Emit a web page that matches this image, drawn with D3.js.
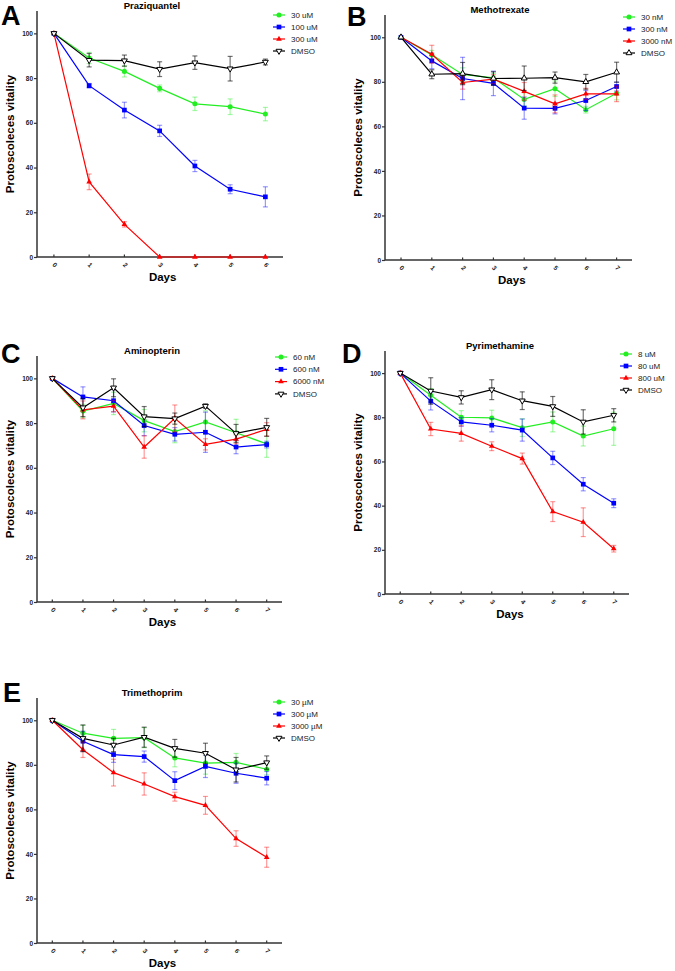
<!DOCTYPE html>
<html>
<head>
<meta charset="utf-8">
<script src="https://cdn.jsdelivr.net/npm/d3@7"></script>
<style>
body { margin: 0; background: #fff; }
text { font-family: Arial, "Liberation Sans", sans-serif; }
</style>
</head>
<body>
<script>
// ---- data ----
var days6 = [0, 1, 2, 3, 4, 5, 6];
var days7 = [0, 1, 2, 3, 4, 5, 6, 7];
var yTicks = [0, 20, 40, 60, 80, 100];

// A: Praziquantel
var praziNames = ["30 uM", "100 uM", "300 uM", "DMSO"];
var praziMean = [
  [100, 89, 83, 75.4, 68.5, 67.2, 63.9],
  [100, 76.6, 65.7, 56.4, 40.7, 30.3, 26.9],
  [100, 33.6, 14.6, 0, 0, 0, 0],
  [100, 88, 87.8, 84, 86.9, 84.2, 87.2]
];
var praziErr = [
  [0, 2.5, 2.5, 1.5, 3, 3.5, 3],
  [0, 1, 3.5, 2.5, 2.5, 2, 4.5],
  [0, 3.5, 1.2, 0, 0, 0, 0],
  [0, 3, 2.5, 3.3, 3, 5.5, 1.3]
];

// B: Methotrexate
var methoNames = ["30 nM", "300 nM", "3000 nM", "DMSO"];
var methoMean = [
  [100, 92.1, 83.3, 81.8, 72.1, 76.9, 67.5, 74.9],
  [100, 89.4, 81.5, 79.3, 68.2, 68.1, 71.6, 77.9],
  [100, 92.4, 79.7, 81.2, 75.7, 70.1, 74.6, 74.6],
  [100, 83.4, 83.7, 81.5, 81.6, 81.9, 80, 84.3]
];
var methoErr = [
  [0, 2, 3, 2, 3, 3.5, 1.5, 3],
  [0, 3.5, 9.5, 5.5, 5, 2.5, 4.5, 2],
  [0, 4, 3, 2, 4, 4, 2.5, 3.5],
  [0, 2, 5, 3, 5.5, 2.5, 3.3, 4.5]
];

// C: Aminopterin
var aminoNames = ["60 nM", "600 nM", "6000 nM", "DMSO"];
var aminoMean = [
  [100, 85.4, 88.8, 81.1, 76.2, 80.5, 75.7, 70.7],
  [100, 91.7, 90, 78.9, 75, 75.9, 69.3, 70.4],
  [100, 85.9, 87.6, 69.3, 82.1, 70.5, 72.8, 77.2],
  [100, 86.9, 95.8, 82.9, 82, 87.6, 75.4, 78.1]
];
var aminoErr = [
  [0, 3, 5, 5, 5, 5, 6, 6],
  [0, 4.5, 5, 4.5, 3, 9, 3, 1.5],
  [0, 4, 2.5, 5, 6, 2.5, 2, 3],
  [0, 4, 4, 4.5, 2.5, 1, 4, 4]
];

// D: Pyrimethamine
var pyriNames = ["8 uM", "80 uM", "800 uM", "DMSO"];
var pyriMean = [
  [100, 90, 80, 79.7, 75.3, 77.9, 71.5, 74.8],
  [100, 87.3, 77.9, 76.4, 74.2, 61.6, 49.7, 41.1],
  [100, 74.7, 72.7, 66.9, 61.3, 37.3, 32.5, 20.5],
  [100, 91.9, 89, 92.5, 87.5, 84.9, 77.9, 80.9]
];
var pyriErr = [
  [0, 3, 3, 3.5, 4, 4.5, 4.5, 7.5],
  [0, 4, 2, 3, 5, 3, 3, 2],
  [0, 3, 3.5, 2, 2.5, 4.5, 6.5, 1.5],
  [0, 6, 3, 4.5, 4, 4.5, 5.5, 3]
];

// E: Trimethoprim
var trimeNames = ["30  \u00b5M", "300 \u00b5M", "3000 \u00b5M", "DMSO"];
var trimeMean = [
  [100, 94.2, 91.9, 92.2, 83.1, 80.8, 81.1, 78],
  [100, 90.6, 84.6, 83.7, 72.9, 79.3, 76.2, 74],
  [100, 86.8, 76.5, 71.4, 65.7, 61.8, 46.9, 38.5],
  [100, 91.9, 88.9, 92.4, 87.4, 85.2, 77.8, 81]
];
var trimeErr = [
  [0, 3.5, 4, 4.5, 4, 5, 4, 2.5],
  [0, 4.5, 3.5, 2.5, 4, 5, 4.5, 3],
  [0, 3.5, 6, 5, 2, 4, 3.5, 4.5],
  [0, 6, 3, 4.5, 4, 4.5, 5.5, 3]
];

var colors = ["#22ee22", "#0000ff", "#ff0000", "#000000"];

var svg = d3.select("body").append("svg")
  .attr("width", 675)
  .attr("height", 971);

function panel(opt, days, names, means, errs) {
  var g = svg.append("g");
  var x = d3.scaleLinear().domain([days[0] - opt.padL, days[days.length - 1] + 0.5]).range([opt.left, opt.right]);
  var y = d3.scaleLinear().domain([0, 110]).range([opt.bottom, opt.top]);

  // y axis
  var ya = g.append("g")
    .attr("transform", "translate(" + opt.left + ",0)")
    .call(d3.axisLeft(y).tickValues(yTicks).tickSize(3).tickPadding(1));
  ya.select(".domain").remove();
  ya.selectAll("line").attr("stroke", "#333").attr("stroke-width", 1.2);
  ya.selectAll("text").attr("font-size", 6.5).attr("font-weight", "bold").attr("fill", "#222");

  // x ticks (inward) and rotated labels
  g.selectAll(".xt").data(days).enter().append("line")
    .attr("x1", function(d) { return x(d); })
    .attr("x2", function(d) { return x(d); })
    .attr("y1", opt.bottom)
    .attr("y2", opt.bottom - 2.5)
    .attr("stroke", "#333").attr("stroke-width", 1.2);
  g.selectAll(".xl").data(days).enter().append("text")
    .attr("transform", function(d) { return "translate(" + (x(d) + 1) + "," + (opt.bottom + 8) + ") rotate(45)"; })
    .attr("text-anchor", "middle")
    .attr("dy", "0.35em")
    .attr("font-size", 6.5).attr("font-weight", "bold").attr("fill", "#222")
    .text(function(d) { return d; });

  // axis lines
  g.append("line").attr("x1", opt.left).attr("x2", opt.left).attr("y1", opt.top).attr("y2", opt.bottom)
    .attr("stroke", "#333").attr("stroke-width", 1.5);
  g.append("line").attr("x1", opt.left).attr("x2", opt.right).attr("y1", opt.bottom).attr("y2", opt.bottom)
    .attr("stroke", "#333").attr("stroke-width", 1.5);

  // labels
  g.append("text").attr("x", opt.left + 115).attr("y", opt.top - 2)
    .attr("text-anchor", "middle").attr("font-size", 9.5).attr("font-weight", "bold")
    .text(opt.title);
  g.append("text").attr("x", opt.letterX).attr("y", opt.letterY)
    .attr("font-size", 27).attr("font-weight", "bold")
    .text(opt.letter);
  g.append("text").attr("transform", "translate(" + (opt.left - 23) + "," + ((opt.top + opt.bottom) / 2) + ") rotate(-90)")
    .attr("text-anchor", "middle").attr("font-size", 11.5).attr("font-weight", "bold")
    .text("Protoscoleces vitality");
  g.append("text").attr("x", (x(days[0]) + x(days[days.length - 1])) / 2 + 3).attr("y", opt.bottom + 24)
    .attr("text-anchor", "middle").attr("font-size", 11.5).attr("font-weight", "bold")
    .text("Days");

  var line = d3.line().x(function(d) { return x(d[0]); }).y(function(d) { return y(d[1]); });
  var shapes = [d3.symbolCircle, d3.symbolSquare, d3.symbolTriangle, d3.symbolTriangle];
  var sizes = [20, 22, 14, 15];

  means.forEach(function(m, i) {
    var pts = days.map(function(d, j) { return [d, m[j], errs[i][j]]; });
    var s = g.append("g");
    // error bars
    var eb = s.selectAll(".eb").data(pts.filter(function(p) { return p[2] > 0; })).enter().append("g")
      .attr("stroke", colors[i]).attr("stroke-opacity", i == 3 ? 0.55 : 0.4).attr("stroke-width", 1.2);
    eb.append("line").attr("x1", function(p) { return x(p[0]); }).attr("x2", function(p) { return x(p[0]); })
      .attr("y1", function(p) { return y(p[1] - p[2]); }).attr("y2", function(p) { return y(p[1] + p[2]); });
    eb.append("line").attr("x1", function(p) { return x(p[0]) - 2.5; }).attr("x2", function(p) { return x(p[0]) + 2.5; })
      .attr("y1", function(p) { return y(p[1] + p[2]); }).attr("y2", function(p) { return y(p[1] + p[2]); });
    eb.append("line").attr("x1", function(p) { return x(p[0]) - 2.5; }).attr("x2", function(p) { return x(p[0]) + 2.5; })
      .attr("y1", function(p) { return y(p[1] - p[2]); }).attr("y2", function(p) { return y(p[1] - p[2]); });
    s.append("path").datum(pts).attr("d", line)
      .attr("fill", "none").attr("stroke", colors[i]).attr("stroke-width", 1.2);
    var rot = (i == 3 && opt.dmsoDown) ? " rotate(180)" : "";
    s.selectAll(".pt").data(pts).enter().append("path")
      .attr("transform", function(p) { return "translate(" + x(p[0]) + "," + y(p[1]) + ")" + rot; })
      .attr("d", d3.symbol().type(shapes[i]).size(sizes[i]))
      .attr("fill", i == 3 ? "#fff" : colors[i])
      .attr("stroke", i == 3 ? "#000" : "none").attr("stroke-width", 1);

    // legend
    var ly = opt.legY + i * opt.legStep;
    g.append("line").attr("x1", opt.legX).attr("x2", opt.legX + 12).attr("y1", ly).attr("y2", ly)
      .attr("stroke", colors[i]).attr("stroke-width", 1.2);
    g.append("path").attr("transform", "translate(" + (opt.legX + 6) + "," + ly + ")" + rot)
      .attr("d", d3.symbol().type(shapes[i]).size(sizes[i]))
      .attr("fill", i == 3 ? "#fff" : colors[i])
      .attr("stroke", i == 3 ? "#000" : "none").attr("stroke-width", 1);
    g.append("text").attr("x", opt.legX + 18).attr("y", ly).attr("dy", "0.35em")
      .attr("font-size", 8).attr("fill", "#222")
      .text(names[i]);
  });
}

panel({left: 37, right: 283, top: 11, bottom: 257, padL: 0.48, title: "Praziquantel", letter: "A",
  letterX: 1, letterY: 25, legX: 273, legY: 15, legStep: 12, dmsoDown: true},
  days6, praziNames, praziMean, praziErr);
panel({left: 385, right: 632, top: 15, bottom: 260, padL: 0.52, title: "Methotrexate", letter: "B",
  letterX: 347, letterY: 26, legX: 623, legY: 17, legStep: 12, dmsoDown: false},
  days7, methoNames, methoMean, methoErr);
panel({left: 37, right: 282, top: 356, bottom: 602, padL: 0.5, title: "Aminopterin", letter: "C",
  letterX: 1, letterY: 363, legX: 275, legY: 357, legStep: 12.3, dmsoDown: true},
  days7, aminoNames, aminoMean, aminoErr);
panel({left: 385, right: 629, top: 351, bottom: 594, padL: 0.5, title: "Pyrimethamine", letter: "D",
  letterX: 342, letterY: 363, legX: 620, legY: 354, legStep: 12, dmsoDown: true},
  days7, pyriNames, pyriMean, pyriErr);
panel({left: 37, right: 282, top: 698, bottom: 943, padL: 0.5, title: "Trimethoprim", letter: "E",
  letterX: 3, letterY: 702, legX: 273, legY: 702, legStep: 12, dmsoDown: true},
  days7, trimeNames, trimeMean, trimeErr);
</script>
</body>
</html>
